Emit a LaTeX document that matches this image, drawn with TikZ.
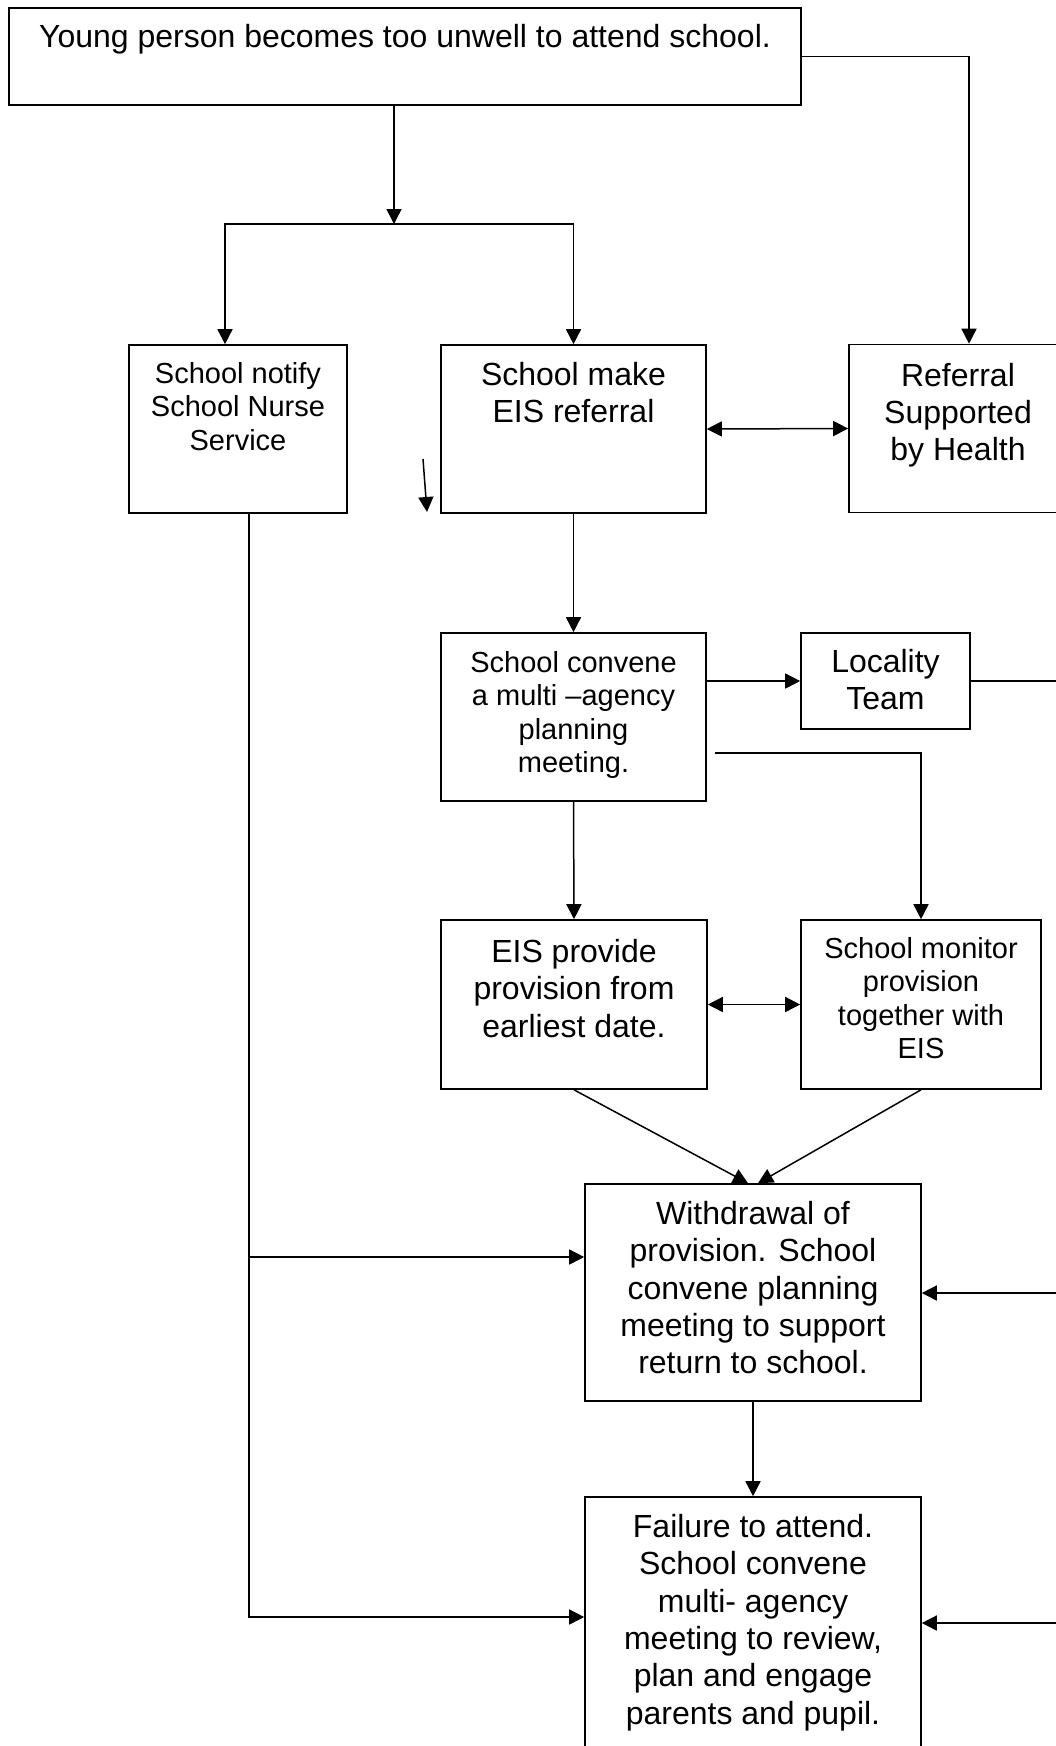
\documentclass[tikz,border=0pt]{standalone}
\usepackage{fontspec}
\setmainfont{Liberation Sans}
\usetikzlibrary{arrows.meta,positioning}

\newcommand{\bigtxt}{\fontsize{32}{37.3}\selectfont}
\newcommand{\smalltxt}{\fontsize{29}{33.3}\selectfont}

\begin{document}
\begin{tikzpicture}[x=1pt,y=-1pt,
    box/.style={draw=black,line width=1.6pt,inner sep=0pt},
    txt/.style={inner sep=0pt,align=center,font=\bigtxt},
    smalltext/.style={txt,font=\smalltxt},
    arr/.style={line width=1.5pt,-{Triangle[length=15pt,width=15pt]}},
    dbl/.style={line width=1.5pt,{Triangle[length=15pt,width=15pt]}-{Triangle[length=15pt,width=15pt]}}]
            \useasboundingbox (0,0) rectangle (1056,1746);
            \fill [white] (0,0) rectangle (1056,1746);
            \clip (0,0) rectangle (1056,1746);
            % boxes
            \node [box,minimum width=792pt,minimum height=97pt] (top) at (405,56.5) {};
            \node [box,minimum width=218pt,minimum height=168pt] (notify) at (238,429) {};
            \node [box,minimum width=265pt,minimum height=168pt] (refer) at (573.5,429) {};
            \node [box,minimum width=218pt,minimum height=168pt] (health) at (958,428.5) {};
            \node [box,minimum width=265pt,minimum height=168pt] (convene) at (573.5,717) {};
            \node [box,minimum width=169pt,minimum height=96pt] (locality) at (885.5,681) {};
            \node [box,minimum width=266pt,minimum height=169pt] (provide) at (574,1004.5) {};
            \node [box,minimum width=240pt,minimum height=169pt] (monitor) at (921,1004.5) {};
            \node [box,minimum width=336pt,minimum height=217pt] (withdraw) at (753,1292.5) {};
            \node [box,minimum width=336pt,minimum height=292pt] (failure) at (753,1643) {};
            % texts
            \node [txt,below=17pt of top.north] (topt) {Young person becomes too unwell to attend school.};
            \node [smalltext,below=18pt of notify.north] (notifyt) {School notify\\School Nurse\\Service};
            \node [txt,below=18pt of refer.north] (refert) {School make\\EIS referral};
            \node [txt,below=19pt of health.north] (healtht) {Referral\\Supported\\by Health};
            \node [smalltext,below=19pt of convene.north] (convenet) {School convene\\a multi –agency\\planning\\meeting.};
            \node [txt,below=17pt of locality.north] (localityt) {Locality\\Team};
            \node [txt,below=20pt of provide.north] (providet) {EIS provide\\provision from\\earliest date.};
            \node [smalltext,below=18pt of monitor.north] (monitort) {School monitor\\provision\\together with\\EIS};
            \node [txt,below=18pt of withdraw.north] (withdrawt) {Withdrawal of\\provision. School\\convene planning\\meeting to support\\return to school.};
            \node [txt,below=18pt of failure.north] (failuret) {Failure to attend.\\School convene\\multi- agency\\meeting to review,\\plan and engage\\parents and pupil.};
            % connectors
            \coordinate (split) at (394,224);
            \coordinate (lbr) at (225,224);
            \draw [arr] (split |- top.south) -- (split);
            \draw [arr] (split) -- (lbr) -- (lbr |- notify.north);
            \draw [arr] (split) -| (refer.north);
            \draw [arr] (top.east) -| ([xshift=11pt]health.north);
            \draw [dbl] (refer.east) -- (health.west);
            \coordinate (stray1) at (423,459);
            \coordinate (stray2) at (427,512);
            \draw [arr] (stray1) -- (stray2);
            \coordinate (nrail) at (249,1257);
            \coordinate (nbot) at (249,1617);
            \draw [arr] (nbot |- notify.south) -- (nbot) -- (nbot -| failure.west);
            \draw [arr] (nrail) -- (nrail -| withdraw.west);
            \draw [arr] (refer.south) -- (convene.north);
            \draw [arr] (convene.east |- locality.west) -- (locality.west);
            \coordinate (ledge) at (1062,681);
            \draw [line width=1.5pt] (locality.east) -- (ledge);
            \coordinate (cmon) at (715,753);
            \draw [arr] (cmon) -| (monitor.north);
            \draw [arr] (convene.south) -- (provide.north);
            \draw [dbl] (provide.east) -- (monitor.west);
            \draw [arr] (provide.south) -- ([xshift=-5pt]withdraw.north);
            \draw [arr] (monitor.south) -- ([xshift=5pt]withdraw.north);
            \draw [arr] (withdraw.south) -- (failure.north);
            \coordinate (wedge) at (1062,1293);
            \coordinate (fedge) at (1062,1623);
            \draw [arr] (wedge) -- (wedge -| withdraw.east);
            \draw [arr] (fedge) -- (fedge -| failure.east);
        \end{tikzpicture}
\end{document}
